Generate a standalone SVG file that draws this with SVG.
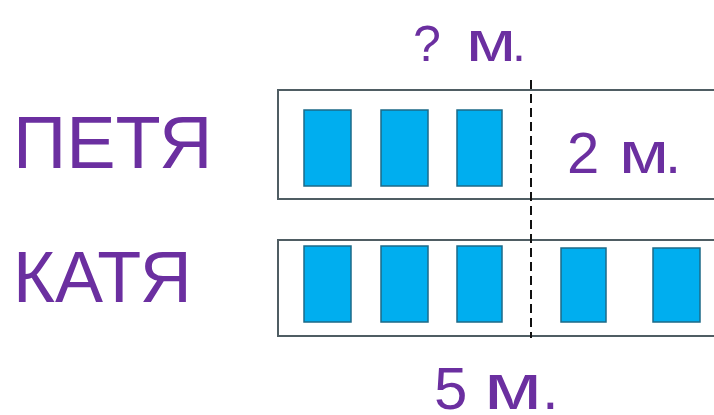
<svg xmlns="http://www.w3.org/2000/svg" width="714" height="415" viewBox="0 0 714 415">
  <style>
    .lbl { font-family: "Liberation Sans", Arial, sans-serif; fill: #6b2fa0; }
    .bar { fill: #ffffff; stroke: #4f5d63; stroke-width: 2; }
    .blk { fill: #00aeef; stroke: #1d6a88; stroke-width: 1.5; }
    .div { stroke: #111111; stroke-width: 2; stroke-dasharray: 9 5; fill: none; }
  </style>
  <rect x="0" y="0" width="714" height="415" fill="#ffffff"/>

  <g id="petya-label"><text class="lbl" x="13" y="168" font-size="74">ПЕТЯ</text></g>
  <g id="katya-label"><text class="lbl" x="13" y="302" font-size="72">КАТЯ</text></g>

  <g id="petya-bar">
    <rect class="bar" x="278" y="90" width="440" height="109"/>
    <rect class="blk" x="304" y="110" width="47" height="76"/>
    <rect class="blk" x="381" y="110" width="47" height="76"/>
    <rect class="blk" x="457" y="110" width="45" height="76"/>
    <text class="lbl" x="567" y="173" font-size="58">2 <tspan x="619" font-size="60" textLength="50" lengthAdjust="spacingAndGlyphs">м</tspan><tspan x="665">.</tspan></text>
  </g>

  <g id="katya-bar">
    <rect class="bar" x="278" y="240" width="440" height="96"/>
    <rect class="blk" x="304" y="246" width="47" height="76"/>
    <rect class="blk" x="381" y="246" width="47" height="76"/>
    <rect class="blk" x="457" y="246" width="45" height="76"/>
    <rect class="blk" x="561" y="248" width="45" height="74"/>
    <rect class="blk" x="653" y="248" width="47" height="74"/>
  </g>

  <g id="connectors">
    <line class="div" x1="531" y1="80" x2="531" y2="338"/>
  </g>

  <g id="top-label"><text class="lbl" x="413" y="61" font-size="50">? <tspan x="466" font-size="58" textLength="50" lengthAdjust="spacingAndGlyphs">м</tspan><tspan x="512">.</tspan></text></g>
  <g id="bottom-label"><text class="lbl" x="434" y="409" font-size="60">5 <tspan x="484" font-size="64" textLength="58" lengthAdjust="spacingAndGlyphs">м</tspan><tspan x="542">.</tspan></text></g>
</svg>
